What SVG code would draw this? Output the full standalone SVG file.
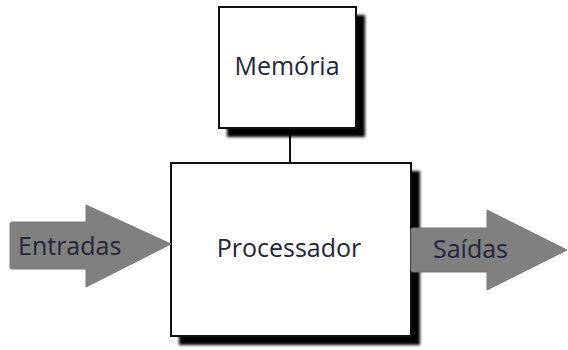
<svg xmlns="http://www.w3.org/2000/svg" width="568" height="350" viewBox="0 0 568 350">
  <defs>
    <filter id="soft" x="-10%" y="-10%" width="120%" height="120%">
      <feGaussianBlur stdDeviation="1.5"/>
    </filter>
  </defs>
  <style>
    .box { fill: #ffffff; stroke: #111111; stroke-width: 2; }
    .shadow { fill: #000000; filter: url(#soft); }
    .arrow { fill: #808080; stroke: #7a7a7a; stroke-width: 1; stroke-linejoin: round; }
    .label { font-family: "Open Sans", "DejaVu Sans", sans-serif; font-size: 25px; fill: #25253a; }
    .wire { stroke: #111111; stroke-width: 2; fill: none; }
  </style>

  <rect width="568" height="350" fill="#ffffff"/>

  <g id="connectors">
    <line class="wire" x1="290" y1="128" x2="290" y2="163"/>
  </g>

  <g id="memoria">
    <rect class="shadow" x="227" y="15" width="138" height="122"/>
    <rect class="box" x="219" y="7" width="137" height="121"/>
    <text class="label" x="287" y="75" text-anchor="middle">Memória</text>
  </g>

  <g id="processador">
    <rect class="shadow" x="179" y="171" width="241" height="174"/>
    <rect class="box" x="171" y="163" width="240" height="173"/>
    <text class="label" x="289" y="257" text-anchor="middle">Processador</text>
  </g>

  <g id="entradas">
    <path class="arrow" d="M12,222 H86 V205 L171,244 L86,287 V269 H12 Q10,269 10,267 V224 Q10,222 12,222 Z"/>
    <text class="label" x="18" y="255">Entradas</text>
  </g>

  <g id="saidas">
    <path class="arrow" d="M413,228 H487 V210 L567,250 L487,290 V272 H413 Q411,272 411,270 V230 Q411,228 413,228 Z"/>
    <text class="label" x="433" y="258">Saídas</text>
  </g>
</svg>
